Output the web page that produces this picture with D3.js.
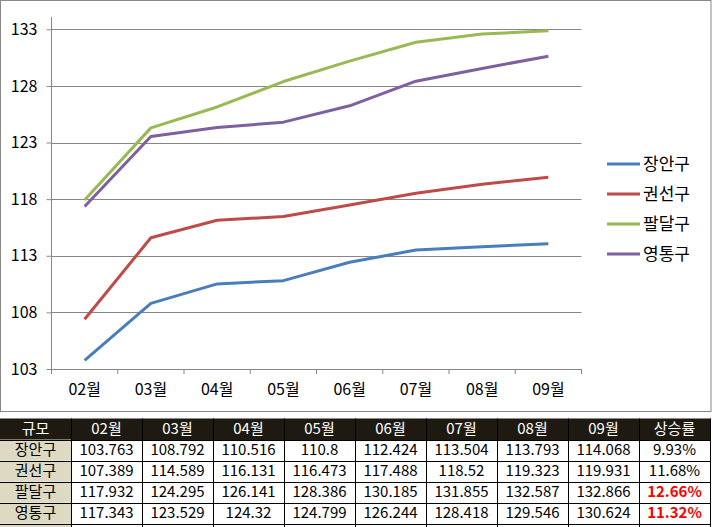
<!DOCTYPE html>
<html><head><meta charset="utf-8">
<script src="https://cdn.jsdelivr.net/npm/d3@7"></script>
<style>
body{margin:0;background:#fff;}
svg text{font-family:"Noto Sans CJK KR","Malgun Gothic",sans-serif;}
</style></head>
<body><svg id="c" width="713" height="527"></svg>
<script>
const months = ["02월","03월","04월","05월","06월","07월","08월","09월"];
const districts = ["장안구","권선구","팔달구","영통구"];
const janganValues = [103.763,108.792,110.516,110.8,112.424,113.504,113.793,114.068];
const gwonseonValues = [107.389,114.589,116.131,116.473,117.488,118.52,119.323,119.931];
const paldalValues = [117.932,124.295,126.141,128.386,130.185,131.855,132.587,132.866];
const yeongtongValues = [117.343,123.529,124.32,124.799,126.244,128.418,129.546,130.624];
const riseRates = ["9.93%","11.68%","12.66%","11.32%"];
const highlightRates = [false,false,true,true];
const yTicks = [103,108,113,118,123,128,133];
const tableHeaderFirst = "규모";
const tableHeaderLast = "상승률";
const colors = ["#4a7ebb","#be4b48","#98b954","#7d60a0"];

const series = [janganValues,gwonseonValues,paldalValues,yeongtongValues];
const svg = d3.select("#c");

// chart frame
svg.append("rect").attr("x",0.5).attr("y",0.5).attr("width",710.5).attr("height",411)
  .attr("fill","#fff").attr("stroke","#888").attr("stroke-width",1);

const x = d3.scaleBand().domain(months).range([51.5,581.5]);
const y = d3.scaleLinear().domain([103,133]).range([369,29.3]);

// gridlines
svg.append("g").selectAll("line").data(yTicks.filter(d=>d!==103)).join("line")
  .attr("x1",51.5).attr("x2",581.5).attr("y1",d=>Math.round(y(d))+0.5).attr("y2",d=>Math.round(y(d))+0.5)
  .attr("stroke","#868686").attr("stroke-width",1);

// y axis
const yAxis = d3.axisLeft(y).tickValues(yTicks).tickSize(5).tickPadding(9).tickFormat(d3.format("d"));
const gy = svg.append("g").attr("transform","translate(51.5,0)").call(yAxis);
gy.select(".domain").attr("stroke","#868686").attr("d","M0,"+y(134.1)+"V"+y(103));
gy.selectAll(".tick line").attr("stroke","#868686");
gy.selectAll(".tick text").attr("font-size",16).attr("fill","#000");

// x axis
const xAxis = d3.axisBottom(x).tickSize(0).tickPadding(15);
const gx = svg.append("g").attr("transform","translate(0,"+y(103)+")").call(xAxis);
gx.select(".domain").attr("stroke","#868686");
gx.selectAll(".tick text").attr("font-size",16).attr("fill","#000");
// category boundary ticks
const bounds = months.map(m=>x(m)).concat([x(months[months.length-1])+x.bandwidth()]);
gx.append("g").selectAll("line").data(bounds).join("line")
  .attr("x1",d=>d).attr("x2",d=>d).attr("y1",0).attr("y2",5).attr("stroke","#868686");

// lines
const line = d3.line().x((d,i)=>x(months[i])+x.bandwidth()/2).y(d=>y(d));
svg.append("g").selectAll("path").data(series).join("path")
  .attr("d",line).attr("fill","none").attr("stroke",(d,i)=>colors[i])
  .attr("stroke-width",3).attr("stroke-linejoin","round");

// legend
const lg = svg.append("g").selectAll("g").data(districts).join("g")
  .attr("transform",(d,i)=>"translate(607,"+(164+i*30)+")");
lg.append("line").attr("x1",0).attr("x2",33).attr("y1",0).attr("y2",0)
  .attr("stroke",(d,i)=>colors[i]).attr("stroke-width",3);
lg.append("text").attr("x",36).attr("y",0).attr("dy","0.36em").attr("font-size",17).attr("fill","#000").text(d=>d);

// table
const colW = 71, tableTop = 418.5, rowH = 21;
const cols = [tableHeaderFirst].concat(months).concat([tableHeaderLast]);
const tg = svg.append("g");
// header
tg.append("rect").attr("x",0).attr("y",tableTop).attr("width",711).attr("height",rowH+0.5).attr("fill","#1e1a12");
tg.selectAll(".hd").data(cols).join("text").attr("class","hd")
  .attr("x",(d,i)=>i*colW+colW/2).attr("y",tableTop+rowH/2).attr("dy","0.36em")
  .attr("text-anchor","middle").attr("font-size",15).attr("fill","#fff").text(d=>d);
// rows
districts.forEach((name,r)=>{
  const ry = tableTop + rowH*(r+1);
  tg.append("rect").attr("x",0).attr("y",ry).attr("width",colW).attr("height",rowH).attr("fill","#ddd9c3");
  const cells = [name].concat(series[r].map(v=>String(v))).concat([riseRates[r]]);
  tg.selectAll(".r"+r).data(cells).join("text").attr("class","r"+r)
    .attr("x",(d,i)=>i*colW+colW/2).attr("y",ry+rowH/2).attr("dy","0.36em")
    .attr("text-anchor","middle").attr("font-size",15)
    .attr("fill",(d,i)=> (i===cols.length-1 && highlightRates[r]) ? "#ff0000" : "#000")
    .attr("font-weight",(d,i)=> (i===cols.length-1 && highlightRates[r]) ? "bold" : "normal")
    .text(d=>d);
});
// extra partial row
tg.append("rect").attr("x",0).attr("y",tableTop+rowH*5).attr("width",colW).attr("height",10).attr("fill","#ddd9c3");
// grid lines
for(let r=1;r<=5;r++){
  const ly = Math.round(tableTop+rowH*r)+0.5;
  tg.append("line").attr("x1",0).attr("x2",711).attr("y1",ly).attr("y2",ly).attr("stroke","#000");
}
for(let c=1;c<=10;c++){
  tg.append("line").attr("x1",c*colW+0.5).attr("x2",c*colW+0.5).attr("y1",tableTop).attr("y2",527).attr("stroke","#000");
}
</script></body></html>
